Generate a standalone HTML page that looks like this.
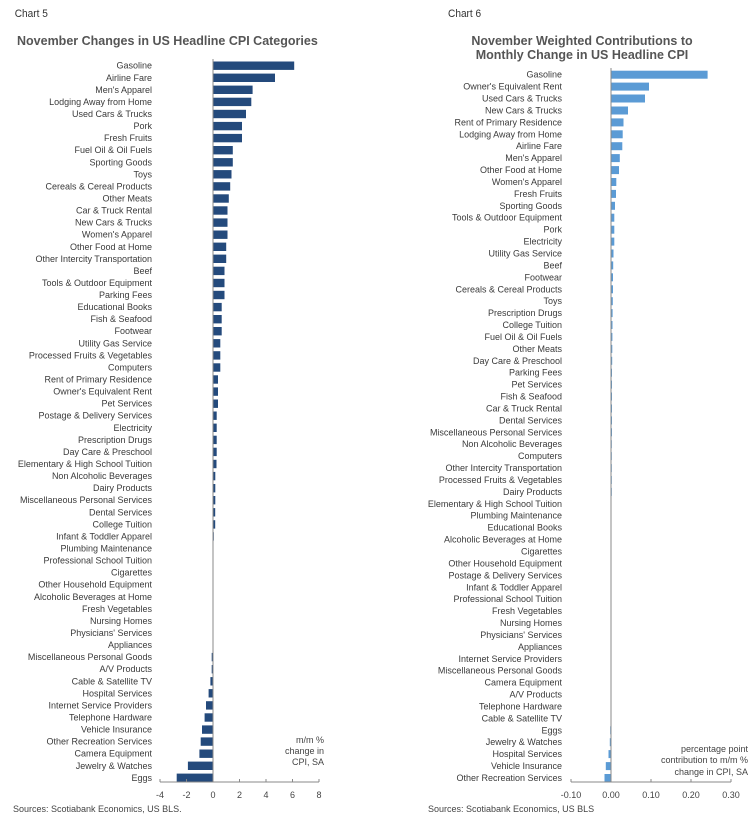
<!DOCTYPE html>
<html><head><meta charset="utf-8"><style>
html,body{margin:0;padding:0;background:#fff;}
svg{display:block;font-family:"Liberation Sans",Arial,sans-serif;}
.l{font-size:9px;fill:#3a3a3a;text-anchor:end;}
.t{font-size:9px;fill:#444;text-anchor:middle;}
.a{fill:#244a7c;}
.b{fill:#5b9bd5;}
</style></head><body>
<svg width="750" height="823" viewBox="0 0 750 823">
<text x="16" y="17" font-size="11" fill="#333" transform="scale(0.92,1)" style="font-stretch:condensed">Chart 5</text>
<text x="487" y="17" font-size="11" fill="#333" transform="scale(0.92,1)">Chart 6</text>
<text x="17" y="45" font-size="12.5" font-weight="bold" fill="#555">November Changes in US Headline CPI Categories</text>
<text x="582" y="45" font-size="12.5" font-weight="bold" fill="#555" text-anchor="middle">November Weighted Contributions to</text>
<text x="582" y="59" font-size="12.5" font-weight="bold" fill="#555" text-anchor="middle">Monthly Change in US Headline CPI</text>

<!-- Chart 5 -->
<g>
<g transform="translate(0,65.7)"><text class="l" x="152" y="3">Gasoline</text><rect class="a" x="213" y="-4.2" width="81.2" height="8.4"/></g>
<g transform="translate(0,77.8)"><text class="l" x="152" y="3">Airline Fare</text><rect class="a" x="213" y="-4.2" width="62" height="8.4"/></g>
<g transform="translate(0,89.8)"><text class="l" x="152" y="3">Men's Apparel</text><rect class="a" x="213" y="-4.2" width="39.6" height="8.4"/></g>
<g transform="translate(0,101.9)"><text class="l" x="152" y="3">Lodging Away from Home</text><rect class="a" x="213" y="-4.2" width="38.3" height="8.4"/></g>
<g transform="translate(0,114.0)"><text class="l" x="152" y="3">Used Cars &amp; Trucks</text><rect class="a" x="213" y="-4.2" width="33" height="8.4"/></g>
<g transform="translate(0,126.1)"><text class="l" x="152" y="3">Pork</text><rect class="a" x="213" y="-4.2" width="29" height="8.4"/></g>
<g transform="translate(0,138.1)"><text class="l" x="152" y="3">Fresh Fruits</text><rect class="a" x="213" y="-4.2" width="29" height="8.4"/></g>
<g transform="translate(0,150.2)"><text class="l" x="152" y="3">Fuel Oil &amp; Oil Fuels</text><rect class="a" x="213" y="-4.2" width="19.8" height="8.4"/></g>
<g transform="translate(0,162.3)"><text class="l" x="152" y="3">Sporting Goods</text><rect class="a" x="213" y="-4.2" width="19.8" height="8.4"/></g>
<g transform="translate(0,174.3)"><text class="l" x="152" y="3">Toys</text><rect class="a" x="213" y="-4.2" width="18.5" height="8.4"/></g>
<g transform="translate(0,186.4)"><text class="l" x="152" y="3">Cereals &amp; Cereal Products</text><rect class="a" x="213" y="-4.2" width="17.2" height="8.4"/></g>
<g transform="translate(0,198.5)"><text class="l" x="152" y="3">Other Meats</text><rect class="a" x="213" y="-4.2" width="15.8" height="8.4"/></g>
<g transform="translate(0,210.5)"><text class="l" x="152" y="3">Car &amp; Truck Rental</text><rect class="a" x="213" y="-4.2" width="14.5" height="8.4"/></g>
<g transform="translate(0,222.6)"><text class="l" x="152" y="3">New Cars &amp; Trucks</text><rect class="a" x="213" y="-4.2" width="14.5" height="8.4"/></g>
<g transform="translate(0,234.7)"><text class="l" x="152" y="3">Women's Apparel</text><rect class="a" x="213" y="-4.2" width="14.5" height="8.4"/></g>
<g transform="translate(0,246.8)"><text class="l" x="152" y="3">Other Food at Home</text><rect class="a" x="213" y="-4.2" width="13.2" height="8.4"/></g>
<g transform="translate(0,258.8)"><text class="l" x="152" y="3">Other Intercity Transportation</text><rect class="a" x="213" y="-4.2" width="13.2" height="8.4"/></g>
<g transform="translate(0,270.9)"><text class="l" x="152" y="3">Beef</text><rect class="a" x="213" y="-4.2" width="11.5" height="8.4"/></g>
<g transform="translate(0,283.0)"><text class="l" x="152" y="3">Tools &amp; Outdoor Equipment</text><rect class="a" x="213" y="-4.2" width="11.5" height="8.4"/></g>
<g transform="translate(0,295.0)"><text class="l" x="152" y="3">Parking Fees</text><rect class="a" x="213" y="-4.2" width="11.5" height="8.4"/></g>
<g transform="translate(0,307.1)"><text class="l" x="152" y="3">Educational Books</text><rect class="a" x="213" y="-4.2" width="8.7" height="8.4"/></g>
<g transform="translate(0,319.2)"><text class="l" x="152" y="3">Fish &amp; Seafood</text><rect class="a" x="213" y="-4.2" width="8.7" height="8.4"/></g>
<g transform="translate(0,331.2)"><text class="l" x="152" y="3">Footwear</text><rect class="a" x="213" y="-4.2" width="8.7" height="8.4"/></g>
<g transform="translate(0,343.3)"><text class="l" x="152" y="3">Utility Gas Service</text><rect class="a" x="213" y="-4.2" width="7.3" height="8.4"/></g>
<g transform="translate(0,355.4)"><text class="l" x="152" y="3">Processed Fruits &amp; Vegetables</text><rect class="a" x="213" y="-4.2" width="7.3" height="8.4"/></g>
<g transform="translate(0,367.5)"><text class="l" x="152" y="3">Computers</text><rect class="a" x="213" y="-4.2" width="7.3" height="8.4"/></g>
<g transform="translate(0,379.5)"><text class="l" x="152" y="3">Rent of Primary Residence</text><rect class="a" x="213" y="-4.2" width="5" height="8.4"/></g>
<g transform="translate(0,391.6)"><text class="l" x="152" y="3">Owner's Equivalent Rent</text><rect class="a" x="213" y="-4.2" width="5" height="8.4"/></g>
<g transform="translate(0,403.7)"><text class="l" x="152" y="3">Pet Services</text><rect class="a" x="213" y="-4.2" width="5" height="8.4"/></g>
<g transform="translate(0,415.7)"><text class="l" x="152" y="3">Postage &amp; Delivery Services</text><rect class="a" x="213" y="-4.2" width="3.7" height="8.4"/></g>
<g transform="translate(0,427.8)"><text class="l" x="152" y="3">Electricity</text><rect class="a" x="213" y="-4.2" width="3.7" height="8.4"/></g>
<g transform="translate(0,439.9)"><text class="l" x="152" y="3">Prescription Drugs</text><rect class="a" x="213" y="-4.2" width="3.7" height="8.4"/></g>
<g transform="translate(0,451.9)"><text class="l" x="152" y="3">Day Care &amp; Preschool</text><rect class="a" x="213" y="-4.2" width="3.7" height="8.4"/></g>
<g transform="translate(0,464.0)"><text class="l" x="152" y="3">Elementary &amp; High School Tuition</text><rect class="a" x="213" y="-4.2" width="3.5" height="8.4"/></g>
<g transform="translate(0,476.1)"><text class="l" x="152" y="3">Non Alcoholic Beverages</text><rect class="a" x="213" y="-4.2" width="2.3" height="8.4"/></g>
<g transform="translate(0,488.2)"><text class="l" x="152" y="3">Dairy Products</text><rect class="a" x="213" y="-4.2" width="2.3" height="8.4"/></g>
<g transform="translate(0,500.2)"><text class="l" x="152" y="3">Miscellaneous Personal Services</text><rect class="a" x="213" y="-4.2" width="2.3" height="8.4"/></g>
<g transform="translate(0,512.3)"><text class="l" x="152" y="3">Dental Services</text><rect class="a" x="213" y="-4.2" width="2.2" height="8.4"/></g>
<g transform="translate(0,524.4)"><text class="l" x="152" y="3">College Tuition</text><rect class="a" x="213" y="-4.2" width="2.2" height="8.4"/></g>
<g transform="translate(0,536.4)"><text class="l" x="152" y="3">Infant &amp; Toddler Apparel</text><rect class="a" x="213" y="-4.2" width="0.8" height="8.4"/></g>
<g transform="translate(0,548.5)"><text class="l" x="152" y="3">Plumbing Maintenance</text><rect class="a" x="213" y="-4.2" width="0.5" height="8.4"/></g>
<g transform="translate(0,560.6)"><text class="l" x="152" y="3">Professional School Tuition</text><rect class="a" x="213" y="-4.2" width="0.4" height="8.4"/></g>
<g transform="translate(0,572.6)"><text class="l" x="152" y="3">Cigarettes</text><rect class="a" x="213" y="-4.2" width="0.4" height="8.4"/></g>
<g transform="translate(0,584.7)"><text class="l" x="152" y="3">Other Household Equipment</text><rect class="a" x="213" y="-4.2" width="0.4" height="8.4"/></g>
<g transform="translate(0,596.8)"><text class="l" x="152" y="3">Alcoholic Beverages at Home</text><rect class="a" x="213" y="-4.2" width="0.3" height="8.4"/></g>
<g transform="translate(0,608.9)"><text class="l" x="152" y="3">Fresh Vegetables</text></g>
<g transform="translate(0,620.9)"><text class="l" x="152" y="3">Nursing Homes</text></g>
<g transform="translate(0,633.0)"><text class="l" x="152" y="3">Physicians' Services</text></g>
<g transform="translate(0,645.1)"><text class="l" x="152" y="3">Appliances</text></g>
<g transform="translate(0,657.1)"><text class="l" x="152" y="3">Miscellaneous Personal Goods</text><rect class="a" x="211.7" y="-4.2" width="1.3" height="8.4"/></g>
<g transform="translate(0,669.2)"><text class="l" x="152" y="3">A/V Products</text><rect class="a" x="211.7" y="-4.2" width="1.3" height="8.4"/></g>
<g transform="translate(0,681.3)"><text class="l" x="152" y="3">Cable &amp; Satellite TV</text><rect class="a" x="210.4" y="-4.2" width="2.6" height="8.4"/></g>
<g transform="translate(0,693.3)"><text class="l" x="152" y="3">Hospital Services</text><rect class="a" x="208.6" y="-4.2" width="4.4" height="8.4"/></g>
<g transform="translate(0,705.4)"><text class="l" x="152" y="3">Internet Service Providers</text><rect class="a" x="206" y="-4.2" width="7" height="8.4"/></g>
<g transform="translate(0,717.5)"><text class="l" x="152" y="3">Telephone Hardware</text><rect class="a" x="204.6" y="-4.2" width="8.4" height="8.4"/></g>
<g transform="translate(0,729.6)"><text class="l" x="152" y="3">Vehicle Insurance</text><rect class="a" x="202" y="-4.2" width="11" height="8.4"/></g>
<g transform="translate(0,741.6)"><text class="l" x="152" y="3">Other Recreation Services</text><rect class="a" x="200.7" y="-4.2" width="12.3" height="8.4"/></g>
<g transform="translate(0,753.7)"><text class="l" x="152" y="3">Camera Equipment</text><rect class="a" x="199.4" y="-4.2" width="13.6" height="8.4"/></g>
<g transform="translate(0,765.8)"><text class="l" x="152" y="3">Jewelry &amp; Watches</text><rect class="a" x="187.9" y="-4.2" width="25.1" height="8.4"/></g>
<g transform="translate(0,777.8)"><text class="l" x="152" y="3">Eggs</text><rect class="a" x="176.7" y="-4.2" width="36.3" height="8.4"/></g>
<line x1="213" y1="59" x2="213" y2="782" stroke="#888" stroke-width="1"/>
<line x1="160" y1="782" x2="319" y2="782" stroke="#888" stroke-width="1"/>
<g stroke="#888"><line x1="160" y1="782" x2="160" y2="779"/><line x1="186.5" y1="782" x2="186.5" y2="779"/><line x1="239.5" y1="782" x2="239.5" y2="779"/><line x1="266" y1="782" x2="266" y2="779"/><line x1="292.5" y1="782" x2="292.5" y2="779"/><line x1="319" y1="782" x2="319" y2="779"/></g>
<text class="t" x="160" y="798">-4</text><text class="t" x="186.5" y="798">-2</text><text class="t" x="213" y="798">0</text><text class="t" x="239.5" y="798">2</text><text class="t" x="266" y="798">4</text><text class="t" x="292.5" y="798">6</text><text class="t" x="319" y="798">8</text>
<text x="324" y="743" font-size="9" fill="#444" text-anchor="end">m/m %</text>
<text x="324" y="754" font-size="9" fill="#444" text-anchor="end">change in</text>
<text x="324" y="765" font-size="9" fill="#444" text-anchor="end">CPI, SA</text>
<text x="13" y="812" font-size="9" fill="#444">Sources: Scotiabank Economics, US BLS.</text>
</g>

<!-- Chart 6 -->
<g>
<g transform="translate(0,74.7)"><text class="l" x="562" y="3">Gasoline</text><rect class="b" x="611" y="-4" width="96.6" height="8"/></g>
<g transform="translate(0,86.6)"><text class="l" x="562" y="3">Owner's Equivalent Rent</text><rect class="b" x="611" y="-4" width="38" height="8"/></g>
<g transform="translate(0,98.5)"><text class="l" x="562" y="3">Used Cars &amp; Trucks</text><rect class="b" x="611" y="-4" width="34" height="8"/></g>
<g transform="translate(0,110.5)"><text class="l" x="562" y="3">New Cars &amp; Trucks</text><rect class="b" x="611" y="-4" width="17" height="8"/></g>
<g transform="translate(0,122.4)"><text class="l" x="562" y="3">Rent of Primary Residence</text><rect class="b" x="611" y="-4" width="12.5" height="8"/></g>
<g transform="translate(0,134.3)"><text class="l" x="562" y="3">Lodging Away from Home</text><rect class="b" x="611" y="-4" width="11.7" height="8"/></g>
<g transform="translate(0,146.2)"><text class="l" x="562" y="3">Airline Fare</text><rect class="b" x="611" y="-4" width="11.3" height="8"/></g>
<g transform="translate(0,158.1)"><text class="l" x="562" y="3">Men's Apparel</text><rect class="b" x="611" y="-4" width="8.8" height="8"/></g>
<g transform="translate(0,170.1)"><text class="l" x="562" y="3">Other Food at Home</text><rect class="b" x="611" y="-4" width="8" height="8"/></g>
<g transform="translate(0,182.0)"><text class="l" x="562" y="3">Women's Apparel</text><rect class="b" x="611" y="-4" width="5.3" height="8"/></g>
<g transform="translate(0,193.9)"><text class="l" x="562" y="3">Fresh Fruits</text><rect class="b" x="611" y="-4" width="5" height="8"/></g>
<g transform="translate(0,205.8)"><text class="l" x="562" y="3">Sporting Goods</text><rect class="b" x="611" y="-4" width="4" height="8"/></g>
<g transform="translate(0,217.7)"><text class="l" x="562" y="3">Tools &amp; Outdoor Equipment</text><rect class="b" x="611" y="-4" width="3.3" height="8"/></g>
<g transform="translate(0,229.7)"><text class="l" x="562" y="3">Pork</text><rect class="b" x="611" y="-4" width="3.3" height="8"/></g>
<g transform="translate(0,241.6)"><text class="l" x="562" y="3">Electricity</text><rect class="b" x="611" y="-4" width="3.3" height="8"/></g>
<g transform="translate(0,253.5)"><text class="l" x="562" y="3">Utility Gas Service</text><rect class="b" x="611" y="-4" width="2.5" height="8"/></g>
<g transform="translate(0,265.4)"><text class="l" x="562" y="3">Beef</text><rect class="b" x="611" y="-4" width="2.2" height="8"/></g>
<g transform="translate(0,277.3)"><text class="l" x="562" y="3">Footwear</text><rect class="b" x="611" y="-4" width="2" height="8"/></g>
<g transform="translate(0,289.3)"><text class="l" x="562" y="3">Cereals &amp; Cereal Products</text><rect class="b" x="611" y="-4" width="2" height="8"/></g>
<g transform="translate(0,301.2)"><text class="l" x="562" y="3">Toys</text><rect class="b" x="611" y="-4" width="1.8" height="8"/></g>
<g transform="translate(0,313.1)"><text class="l" x="562" y="3">Prescription Drugs</text><rect class="b" x="611" y="-4" width="1.6" height="8"/></g>
<g transform="translate(0,325.0)"><text class="l" x="562" y="3">College Tuition</text><rect class="b" x="611" y="-4" width="1.5" height="8"/></g>
<g transform="translate(0,336.9)"><text class="l" x="562" y="3">Fuel Oil &amp; Oil Fuels</text><rect class="b" x="611" y="-4" width="1.4" height="8"/></g>
<g transform="translate(0,348.9)"><text class="l" x="562" y="3">Other Meats</text><rect class="b" x="611" y="-4" width="1.3" height="8"/></g>
<g transform="translate(0,360.8)"><text class="l" x="562" y="3">Day Care &amp; Preschool</text><rect class="b" x="611" y="-4" width="1.2" height="8"/></g>
<g transform="translate(0,372.7)"><text class="l" x="562" y="3">Parking Fees</text><rect class="b" x="611" y="-4" width="1" height="8"/></g>
<g transform="translate(0,384.6)"><text class="l" x="562" y="3">Pet Services</text><rect class="b" x="611" y="-4" width="1" height="8"/></g>
<g transform="translate(0,396.5)"><text class="l" x="562" y="3">Fish &amp; Seafood</text><rect class="b" x="611" y="-4" width="1" height="8"/></g>
<g transform="translate(0,408.5)"><text class="l" x="562" y="3">Car &amp; Truck Rental</text><rect class="b" x="611" y="-4" width="1" height="8"/></g>
<g transform="translate(0,420.4)"><text class="l" x="562" y="3">Dental Services</text><rect class="b" x="611" y="-4" width="1" height="8"/></g>
<g transform="translate(0,432.3)"><text class="l" x="562" y="3">Miscellaneous Personal Services</text><rect class="b" x="611" y="-4" width="1" height="8"/></g>
<g transform="translate(0,444.2)"><text class="l" x="562" y="3">Non Alcoholic Beverages</text><rect class="b" x="611" y="-4" width="0.8" height="8"/></g>
<g transform="translate(0,456.1)"><text class="l" x="562" y="3">Computers</text><rect class="b" x="611" y="-4" width="0.8" height="8"/></g>
<g transform="translate(0,468.1)"><text class="l" x="562" y="3">Other Intercity Transportation</text><rect class="b" x="611" y="-4" width="0.8" height="8"/></g>
<g transform="translate(0,480.0)"><text class="l" x="562" y="3">Processed Fruits &amp; Vegetables</text><rect class="b" x="611" y="-4" width="0.8" height="8"/></g>
<g transform="translate(0,491.9)"><text class="l" x="562" y="3">Dairy Products</text><rect class="b" x="611" y="-4" width="0.8" height="8"/></g>
<g transform="translate(0,503.8)"><text class="l" x="562" y="3">Elementary &amp; High School Tuition</text><rect class="b" x="611" y="-4" width="0.5" height="8"/></g>
<g transform="translate(0,515.7)"><text class="l" x="562" y="3">Plumbing Maintenance</text></g>
<g transform="translate(0,527.7)"><text class="l" x="562" y="3">Educational Books</text></g>
<g transform="translate(0,539.6)"><text class="l" x="562" y="3">Alcoholic Beverages at Home</text></g>
<g transform="translate(0,551.5)"><text class="l" x="562" y="3">Cigarettes</text></g>
<g transform="translate(0,563.4)"><text class="l" x="562" y="3">Other Household Equipment</text></g>
<g transform="translate(0,575.3)"><text class="l" x="562" y="3">Postage &amp; Delivery Services</text></g>
<g transform="translate(0,587.3)"><text class="l" x="562" y="3">Infant &amp; Toddler Apparel</text></g>
<g transform="translate(0,599.2)"><text class="l" x="562" y="3">Professional School Tuition</text></g>
<g transform="translate(0,611.1)"><text class="l" x="562" y="3">Fresh Vegetables</text></g>
<g transform="translate(0,623.0)"><text class="l" x="562" y="3">Nursing Homes</text></g>
<g transform="translate(0,634.9)"><text class="l" x="562" y="3">Physicians' Services</text></g>
<g transform="translate(0,646.9)"><text class="l" x="562" y="3">Appliances</text></g>
<g transform="translate(0,658.8)"><text class="l" x="562" y="3">Internet Service Providers</text></g>
<g transform="translate(0,670.7)"><text class="l" x="562" y="3">Miscellaneous Personal Goods</text></g>
<g transform="translate(0,682.6)"><text class="l" x="562" y="3">Camera Equipment</text></g>
<g transform="translate(0,694.5)"><text class="l" x="562" y="3">A/V Products</text></g>
<g transform="translate(0,706.5)"><text class="l" x="562" y="3">Telephone Hardware</text></g>
<g transform="translate(0,718.4)"><text class="l" x="562" y="3">Cable &amp; Satellite TV</text><rect class="b" x="610.5" y="-4" width="0.5" height="8"/></g>
<g transform="translate(0,730.3)"><text class="l" x="562" y="3">Eggs</text><rect class="b" x="610.2" y="-4" width="0.8" height="8"/></g>
<g transform="translate(0,742.2)"><text class="l" x="562" y="3">Jewelry &amp; Watches</text><rect class="b" x="609.8" y="-4" width="1.2" height="8"/></g>
<g transform="translate(0,754.1)"><text class="l" x="562" y="3">Hospital Services</text><rect class="b" x="608.5" y="-4" width="2.5" height="8"/></g>
<g transform="translate(0,766.1)"><text class="l" x="562" y="3">Vehicle Insurance</text><rect class="b" x="605.8" y="-4" width="5.2" height="8"/></g>
<g transform="translate(0,778.0)"><text class="l" x="562" y="3">Other Recreation Services</text><rect class="b" x="604.5" y="-4" width="6.5" height="8"/></g>
<line x1="611" y1="68" x2="611" y2="782" stroke="#888" stroke-width="1"/>
<line x1="571" y1="782" x2="731" y2="782" stroke="#888" stroke-width="1"/>
<g stroke="#888"><line x1="571" y1="782" x2="571" y2="779"/><line x1="651" y1="782" x2="651" y2="779"/><line x1="691" y1="782" x2="691" y2="779"/><line x1="731" y1="782" x2="731" y2="779"/></g>
<text class="t" x="571" y="798">-0.10</text><text class="t" x="611" y="798">0.00</text><text class="t" x="651" y="798">0.10</text><text class="t" x="691" y="798">0.20</text><text class="t" x="731" y="798">0.30</text>
<text x="748" y="752" font-size="9" fill="#444" text-anchor="end">percentage point</text>
<text x="748" y="763" font-size="9" fill="#444" text-anchor="end">contribution to m/m %</text>
<text x="748" y="775" font-size="9" fill="#444" text-anchor="end">change in CPI, SA</text>
<text x="428" y="812" font-size="9" fill="#444">Sources: Scotiabank Economics, US BLS</text>
</g>
</svg>
</body></html>
